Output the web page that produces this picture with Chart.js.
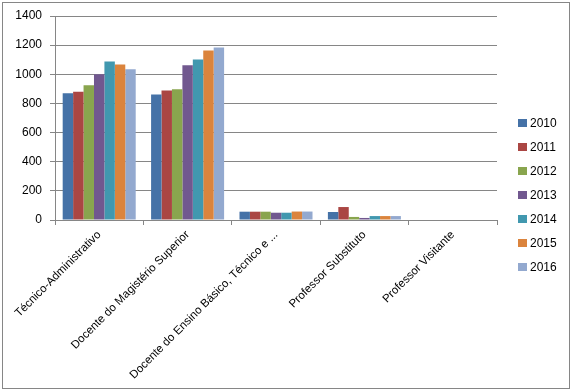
<!DOCTYPE html>
<html>
<head>
<meta charset="utf-8">
<script src="https://cdn.jsdelivr.net/npm/chart.js@4/dist/chart.umd.min.js"></script>
<style>
html,body{margin:0;padding:0;background:#fff;}
#wrap{width:572px;height:391px;position:relative;}
</style>
</head>
<body>
<div id="wrap"><canvas id="c" width="572" height="391"></canvas></div>
<script>
const categories = ["Técnico-Administrativo", "Docente do Magistério Superior", "Docente do Ensino Básico, Técnico e ...", "Professor Substituto", "Professor Visitante"];
const years = ["2010", "2011", "2012", "2013", "2014", "2015", "2016"];
const v2010 = [870, 862, 57, 55, 0];
const v2011 = [880, 889, 57, 89, 0];
const v2012 = [925, 897, 57, 21, 0];
const v2013 = [1000, 1062, 50, 14, 0];
const v2014 = [1088, 1102, 50, 27, 0];
const v2015 = [1068, 1163, 58, 27, 0];
const v2016 = [1034, 1184, 58, 27, 0];
const yTicks = [0, 200, 400, 600, 800, 1000, 1200, 1400];

const seriesValues = [v2010, v2011, v2012, v2013, v2014, v2015, v2016];
const colors = ["#4572A7", "#AA4643", "#89A54E", "#71588F", "#4198AF", "#DB843D", "#93A9CF"];

const frame = {
  id: 'frame',
  beforeDraw(chart) {
    const ctx = chart.ctx;
    ctx.save();
    ctx.fillStyle = '#fff';
    ctx.fillRect(0, 0, chart.width, chart.height);
    ctx.strokeStyle = '#868686';
    ctx.lineWidth = 1;
    ctx.strokeRect(2.5, 2.5, 567, 386);
    ctx.restore();
  }
};

const customLegend = {
  id: 'customLegend',
  afterDraw(chart) {
    const ctx = chart.ctx;
    ctx.save();
    ctx.font = '12px "Liberation Sans", Arial, sans-serif';
    ctx.textBaseline = 'middle';
    ctx.textAlign = 'left';
    chart.data.datasets.forEach((ds, i) => {
      const cy = 123 + i * 24;
      ctx.fillStyle = ds.backgroundColor;
      ctx.fillRect(518, cy - 4, 9, 8);
      ctx.fillStyle = '#000';
      ctx.fillText(ds.label, 530, cy + 1);
    });
    ctx.restore();
  }
};

new Chart(document.getElementById('c'), {
  type: 'bar',
  data: {
    labels: categories,
    datasets: years.map((y, i) => ({
      label: y,
      data: seriesValues[i],
      backgroundColor: colors[i],
      borderWidth: 0,
      categoryPercentage: 0.826,
      barPercentage: 1.0
    }))
  },
  options: {
    responsive: false,
    animation: false,
    devicePixelRatio: 1,
    layout: { padding: { left: 0, top: 16, right: 75, bottom: 0 } },
    plugins: {
      legend: { display: false },
      tooltip: { enabled: false }
    },
    scales: {
      x: {
        offset: true,
        grid: { display: true, drawOnChartArea: false, drawTicks: true, tickLength: 5, offset: true, color: '#868686' },
        border: { color: '#868686' },
        ticks: {
          minRotation: 45, maxRotation: 45, autoSkip: false, padding: 3,
          color: '#000',
          font: { family: '"Liberation Sans", Arial, sans-serif', size: 11.5 }
        },
        afterFit(scale) { scale.height = 171; }
      },
      y: {
        min: 0, max: 1400,
        afterBuildTicks(scale) { scale.ticks = yTicks.map(v => ({ value: v })); },
        grid: { color: '#868686', tickLength: 5, drawTicks: true },
        border: { color: '#868686' },
        ticks: {
          padding: 8, color: '#000',
          callback: (v) => String(v),
          font: { family: '"Liberation Sans", Arial, sans-serif', size: 12 }
        },
        afterFit(scale) { scale.width = 55; }
      }
    }
  },
  plugins: [frame, customLegend]
});
</script>
</body>
</html>
